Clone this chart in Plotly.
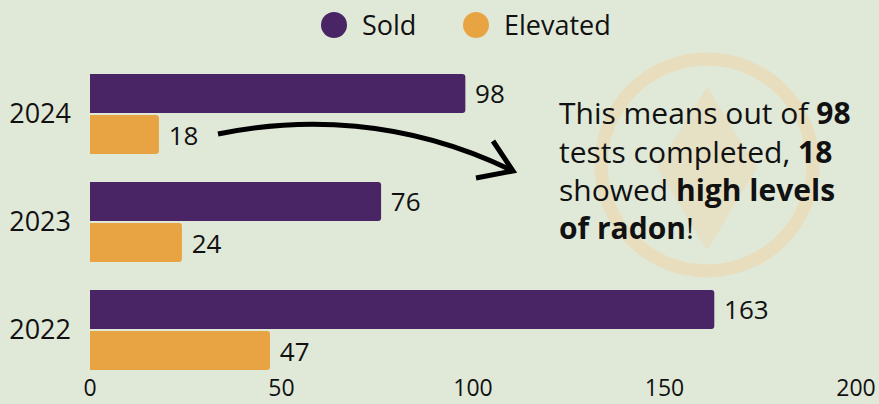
import plotly.graph_objects as go

# Radon tests per year
years = ["2022", "2023", "2024"]
sold = [163, 76, 98]
elevated = [47, 24, 18]

x_ticks = [0, 50, 100, 150, 200]

PURPLE = "#4A2566"
ORANGE = "#E8A443"
BG = "#E0E8D8"
INK = "#111111"
LOGO = "#E8DDBD"
FONT = "Open Sans"

# plot-area geometry in pixels (used to place decorations in paper space)
W, H = 879, 404
L, R, T, B = 90, 23, 60, 20
X0, X1 = L, W - R
Y0, Y1 = T, H - B


def px(x):
    return (x - X0) / (X1 - X0)


def py(y):
    return (Y1 - y) / (Y1 - Y0)


fig = go.Figure()
# Elevated first so that Sold sits on top within each year group
fig.add_trace(go.Bar(
    y=years, x=elevated, name="Elevated", orientation="h",
    marker=dict(color=ORANGE, line=dict(width=0)),
    texttemplate=" %{x}", textposition="outside",
    textfont=dict(family=FONT, size=26, color=INK),
    cliponaxis=False, showlegend=False,
))
fig.add_trace(go.Bar(
    y=years, x=sold, name="Sold", orientation="h",
    marker=dict(color=PURPLE, line=dict(width=0)),
    texttemplate=" %{x}", textposition="outside",
    textfont=dict(family=FONT, size=26, color=INK),
    cliponaxis=False, showlegend=False,
))

shapes = []
annotations = []

# legend: filled circles with labels
for cx, label, color, tx in [(334, "Sold", PURPLE, 360), (476, "Elevated", ORANGE, 502)]:
    shapes.append(dict(type="circle", xref="paper", yref="paper",
                       x0=px(cx - 13), x1=px(cx + 13), y0=py(38), y1=py(12),
                       fillcolor=color, line=dict(width=0)))
    annotations.append(dict(xref="paper", yref="paper", x=px(tx), y=py(25),
                            xanchor="left", yanchor="middle", showarrow=False,
                            text=label, font=dict(family=FONT, size=27, color=INK)))

# faint logo mark behind the note
shapes.append(dict(type="circle", xref="paper", yref="paper", layer="below",
                   x0=px(707 - 106), x1=px(707 + 106), y0=py(165 + 106), y1=py(165 - 106),
                   line=dict(color=LOGO, width=13), fillcolor="rgba(0,0,0,0)"))
diamond = [(707, 87), (757, 168), (707, 250), (657, 168)]
shapes.append(dict(type="path", xref="paper", yref="paper", layer="below",
                   path="M " + " L ".join(f"{px(a)},{py(b)}" for a, b in diamond) + " Z",
                   fillcolor="#E6E0C4", line=dict(width=0)))

# curved arrow from the 2024 bars to the note
p = [(218, 134), (300, 117), (405, 118), (513, 171)]
shapes.append(dict(type="path", xref="paper", yref="paper",
                   path=f"M {px(p[0][0])},{py(p[0][1])} C {px(p[1][0])},{py(p[1][1])} "
                        f"{px(p[2][0])},{py(p[2][1])} {px(p[3][0])},{py(p[3][1])}",
                   line=dict(color="black", width=5)))
head = [(493, 141), (513, 171), (476, 178)]
shapes.append(dict(type="path", xref="paper", yref="paper",
                   path="M " + " L ".join(f"{px(a)},{py(b)}" for a, b in head),
                   line=dict(color="black", width=5)))

# explanatory note
note = [
    "This means out of <b>98</b>",
    "tests completed, <b>18</b>",
    "showed <b>high levels</b>",
    "<b>of radon</b>!",
]
for i, line in enumerate(note):
    annotations.append(dict(xref="paper", yref="paper", x=px(557), y=py(113 + 38 * i),
                            xanchor="left", yanchor="middle", showarrow=False,
                            text=line, font=dict(family=FONT, size=30, color=INK)))

fig.update_layout(
    width=W, height=H,
    margin=dict(l=L, r=R, t=T, b=B),
    paper_bgcolor=BG, plot_bgcolor=BG,
    barmode="group", bargap=0.24, bargroupgap=0.05,
    barcornerradius=3,
    showlegend=False,
    font=dict(family=FONT, color=INK),
    xaxis=dict(range=[0, 200], tickvals=x_ticks, showgrid=False, zeroline=False,
               showline=False, ticks="", automargin=False, ticklabelstandoff=-12,
               tickfont=dict(family=FONT, size=23, color=INK)),
    yaxis=dict(categoryorder="array", categoryarray=years, showgrid=False,
               zeroline=False, showline=False, ticks="", ticklabelstandoff=18,
               automargin=False, tickfont=dict(family=FONT, size=27, color=INK)),
    shapes=shapes,
    annotations=annotations,
)

fig.write_html("out.html")
